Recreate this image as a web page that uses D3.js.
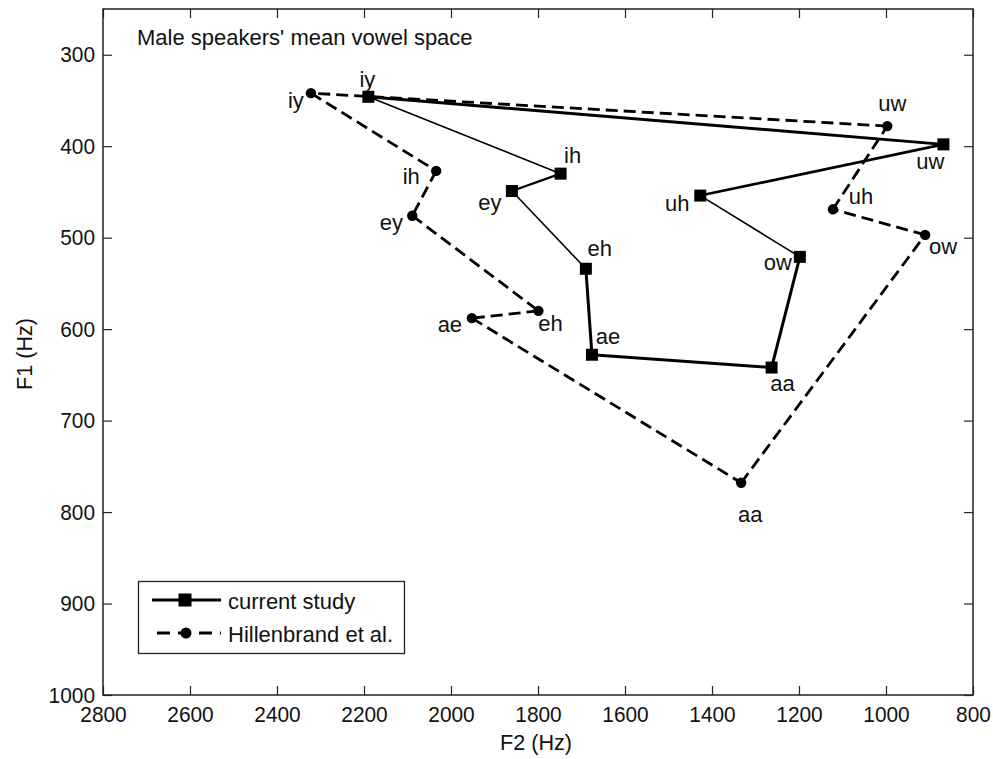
<!DOCTYPE html>
<html>
<head>
<meta charset="utf-8">
<script src="https://cdn.jsdelivr.net/npm/d3@7"></script>
<style>
  html, body { margin: 0; padding: 0; background: #fff; }
  svg { display: block; }
  text { font-family: "Liberation Sans", Arial, sans-serif; fill: #111; }
</style>
</head>
<body>
<svg id="chart" width="993" height="759"></svg>
<script>
// ---- data ----
const vowels = ["iy", "ih", "ey", "eh", "ae", "aa", "ow", "uh", "uw"];
const currentF2 = [2190, 1748, 1860, 1690, 1676, 1263, 1198, 1427, 868];
const currentF1 = [346, 430, 449, 534, 628, 642, 521, 454, 398];
const hillF2 = [2322, 2034, 2089, 1799, 1952, 1333, 910, 1122, 997];
const hillF1 = [342, 427, 476, 580, 588, 768, 497, 469, 378];
const xTicks = [2800, 2600, 2400, 2200, 2000, 1800, 1600, 1400, 1200, 1000, 800];
const yTicks = [300, 400, 500, 600, 700, 800, 900, 1000];
const seriesNames = ["current study", "Hillenbrand et al."];
const title = "Male speakers' mean vowel space";

// ---- layout / style (not data) ----
const M = { left: 103, top: 9 };
const pw = 973 - M.left, ph = 695 - M.top;
const FS = 22;
const curSegWidth = [1.6, 2.2, 1.6, 3, 3, 3, 1.6, 2.6, 3];
const curLabelOff = [[-1,-17],[12,-18],[-22,11],[14,-20],[16,-18],[11,16],[-22,6],[-23,8],[-13,17]];
const hillLabelOff = [[-15,7],[-25,6],[-21,7],[12,13],[-22,6],[9,32],[18,12],[28,-13],[5,-23]];

const svg = d3.select("#chart");
const g = svg.append("g").attr("transform", `translate(${M.left},${M.top})`);

const x = d3.scaleLinear().domain([2800, 800]).range([0, pw]);
const y = d3.scaleLinear().domain([250, 1000]).range([0, ph]);

// axes
const tickLen = 9;
const xAxisB = d3.axisBottom(x).tickValues(xTicks).tickSize(-tickLen).tickPadding(11).tickFormat(d3.format("d"));
const xAxisT = d3.axisTop(x).tickValues(xTicks).tickSize(-tickLen).tickFormat("");
const yAxisL = d3.axisLeft(y).tickValues(yTicks).tickSize(-tickLen).tickPadding(8).tickFormat(d3.format("d"));
const yAxisR = d3.axisRight(y).tickValues(yTicks).tickSize(-tickLen).tickFormat("");

function styleAxis(sel) {
  sel.select(".domain").remove();
  sel.selectAll(".tick line").attr("stroke", "#222").attr("stroke-width", 1.2);
  sel.selectAll(".tick text").attr("font-size", FS).attr("fill", "#111")
     .style("font-family", '"Liberation Sans", Arial, sans-serif')
     .attr("textLength", function() { return this.textContent.length * 11.6; })
     .attr("lengthAdjust", "spacingAndGlyphs");
}
g.append("g").attr("transform", `translate(0,${ph})`).call(xAxisB).call(styleAxis);
g.append("g").call(xAxisT).call(styleAxis);
g.append("g").call(yAxisL).call(styleAxis);
g.append("g").attr("transform", `translate(${pw},0)`).call(yAxisR).call(styleAxis);

// frame
g.append("rect").attr("x", 0).attr("y", 0).attr("width", pw).attr("height", ph)
  .attr("fill", "none").attr("stroke", "#222").attr("stroke-width", 1.5);

// axis labels
svg.append("text").attr("x", 536).attr("y", 742).attr("text-anchor", "middle")
  .attr("dominant-baseline", "central").attr("font-size", FS)
  .attr("textLength", 72).attr("lengthAdjust", "spacingAndGlyphs").text("F2 (Hz)");
svg.append("text").attr("transform", `translate(24,354) rotate(-90)`)
  .attr("text-anchor", "middle").attr("dominant-baseline", "central").attr("font-size", FS)
  .attr("textLength", 72).attr("lengthAdjust", "spacingAndGlyphs").text("F1 (Hz)");

// title inside axes
g.append("text").attr("x", 34).attr("y", 28).attr("dominant-baseline", "central")
  .attr("font-size", FS).text(title);

// series points
const cur = vowels.map((v, i) => ({ v, f2: currentF2[i], f1: currentF1[i] }));
const hill = vowels.map((v, i) => ({ v, f2: hillF2[i], f1: hillF1[i] }));

const line = d3.line().x(d => x(d.f2)).y(d => y(d.f1));
// current study segments (closed polygon)
cur.forEach((d, i) => {
  const n = cur[(i + 1) % cur.length];
  g.append("path").attr("d", line([d, n])).attr("fill", "none")
    .attr("stroke", "#000").attr("stroke-width", curSegWidth[i]).attr("stroke-linecap", "butt");
});
// Hillenbrand dashed polygon
hill.forEach((d, i) => {
  const n = hill[(i + 1) % hill.length];
  g.append("path").attr("d", line([d, n])).attr("fill", "none")
    .attr("stroke", "#000").attr("stroke-width", 2.8).attr("stroke-dasharray", "12,6");
});

// markers
const sq = 12;
g.selectAll("rect.cur").data(cur).join("rect").attr("class", "cur")
  .attr("x", d => x(d.f2) - sq / 2).attr("y", d => y(d.f1) - sq / 2)
  .attr("width", sq).attr("height", sq).attr("fill", "#000");
g.selectAll("circle.hill").data(hill).join("circle").attr("class", "hill")
  .attr("cx", d => x(d.f2)).attr("cy", d => y(d.f1)).attr("r", 5.2).attr("fill", "#000");

// vowel labels
g.selectAll("text.curlab").data(cur).join("text").attr("class", "curlab")
  .attr("x", (d, i) => x(d.f2) + curLabelOff[i][0]).attr("y", (d, i) => y(d.f1) + curLabelOff[i][1])
  .attr("text-anchor", "middle").attr("dominant-baseline", "central").attr("font-size", FS).text(d => d.v);
g.selectAll("text.hilllab").data(hill).join("text").attr("class", "hilllab")
  .attr("x", (d, i) => x(d.f2) + hillLabelOff[i][0]).attr("y", (d, i) => y(d.f1) + hillLabelOff[i][1])
  .attr("text-anchor", "middle").attr("dominant-baseline", "central").attr("font-size", FS).text(d => d.v);

// legend
const lg = svg.append("g");
lg.append("rect").attr("x", 138.5).attr("y", 581.5).attr("width", 266).attr("height", 72)
  .attr("fill", "#fff").attr("stroke", "#222").attr("stroke-width", 1.3);
lg.append("line").attr("x1", 152).attr("x2", 221).attr("y1", 600).attr("y2", 600)
  .attr("stroke", "#000").attr("stroke-width", 2.8);
lg.append("rect").attr("x", 185 - 6.5).attr("y", 600 - 6.5).attr("width", 13).attr("height", 13).attr("fill", "#000");
lg.append("text").attr("x", 228).attr("y", 601).attr("dominant-baseline", "central").attr("font-size", FS).text(seriesNames[0]);
lg.append("line").attr("x1", 157).attr("x2", 221).attr("y1", 633).attr("y2", 633)
  .attr("stroke", "#000").attr("stroke-width", 2.8).attr("stroke-dasharray", "13,8");
lg.append("circle").attr("cx", 186).attr("cy", 633).attr("r", 5.5).attr("fill", "#000");
lg.append("text").attr("x", 228).attr("y", 634).attr("dominant-baseline", "central").attr("font-size", FS).text(seriesNames[1]);
</script>
</body>
</html>
